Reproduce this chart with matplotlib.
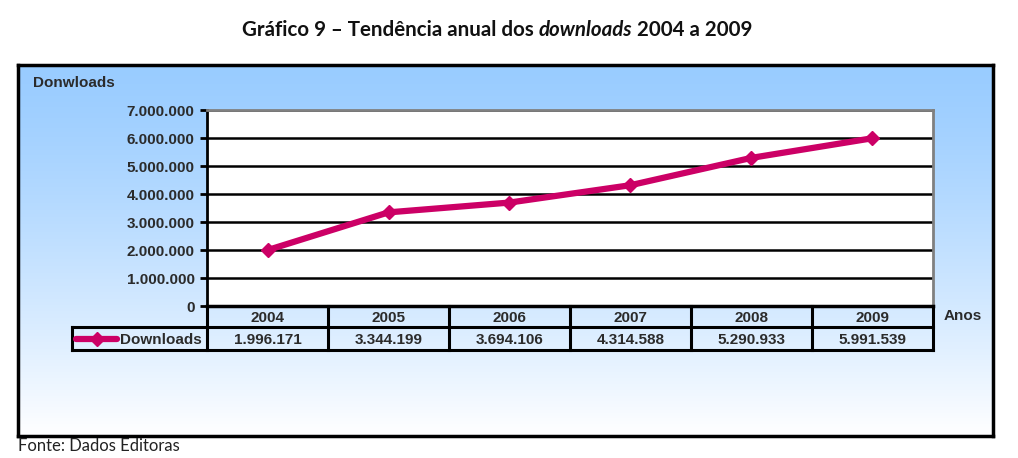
import numpy as np
import matplotlib.pyplot as plt
from matplotlib.lines import Line2D

years = ['2004', '2005', '2006', '2007', '2008', '2009']
downloads = [1996171, 3344199, 3694106, 4314588, 5290933, 5991539]
labels = ['1.996.171', '3.344.199', '3.694.106', '4.314.588', '5.290.933', '5.991.539']
yticks = [0, 1000000, 2000000, 3000000, 4000000, 5000000, 6000000, 7000000]

W, H = 1018, 458
pink = '#cc0066'
fs = 11
plt.rcParams['font.family'] = ['Liberation Sans', 'DejaVu Sans']

fig = plt.figure(figsize=(W / 100, H / 100), dpi=100)


def box(x0, y0, x1, y1):
    # pixel box (top-left origin) -> figure rect
    return [x0 / W, 1 - y1 / H, (x1 - x0) / W, (y1 - y0) / H]


def fx(x):
    return x / W


def fy(y):
    return 1 - y / H


# gradient panel
bg = fig.add_axes(box(18, 65, 993, 436))
grad = np.linspace(0, 1, 256) ** 1.3
top = np.array([0.6, 0.8, 1.0])
cols = top[None, :] * (1 - grad[:, None]) + np.ones(3)[None, :] * grad[:, None]
bg.imshow(cols[:, None, :], aspect='auto', extent=[0, 1, 0, 1])
bg.set_xticks([])
bg.set_yticks([])
for s in bg.spines.values():
    s.set_linewidth(2.5)
    s.set_color('black')

# title in three pieces, laid out one after the other
renderer = fig.canvas.get_renderer()
parts = [('Gráfico 9 – Tendência anual dos ', 'normal'),
         ('downloads', 'italic'),
         (' 2004 a 2009', 'normal')]
texts = []
for s, st in parts:
    texts.append(fig.text(0, fy(30), s, ha='left', va='center', fontsize=14.8,
                          fontweight='bold', style=st, family='Lato', color='#111111'))
widths = [t.get_window_extent(renderer).width for t in texts]
xpos = 497 - sum(widths) / 2
for t, w in zip(texts, widths):
    t.set_x(fx(xpos))
    xpos += w

# main plot
ax = fig.add_axes(box(207, 110, 933, 306))
ax.set_facecolor('white')
x = np.arange(len(years))
ax.set_xlim(-0.5, len(years) - 0.5)
ax.set_ylim(0, 7000000)
ax.set_yticks(yticks)
ax.set_yticklabels([f'{v:,}'.replace(',', '.') for v in yticks],
                   fontsize=fs, fontweight='bold', color='#2b2b2b')
ax.set_xticks([])
for v in yticks[1:]:
    ax.axhline(v, color='black', lw=1.8, zorder=1)
ax.plot(x, downloads, color=pink, lw=4.5, marker='D', markersize=7, zorder=3,
        solid_capstyle='round')
ax.spines['left'].set_linewidth(2)
ax.spines['bottom'].set_linewidth(2.5)
ax.spines['top'].set_color('#808080')
ax.spines['top'].set_linewidth(2)
ax.spines['right'].set_color('#808080')
ax.spines['right'].set_linewidth(2)
ax.tick_params(axis='y', length=5, width=2, pad=4)

fig.text(fx(33), fy(83), 'Donwloads', fontsize=fs, fontweight='bold',
         color='#2b2b2b', va='center')
fig.text(fx(963), fy(316), 'Anos', fontsize=fs, fontweight='bold',
         color='#2b2b2b', va='center', ha='center')

# data table
x0, x1 = 207, 933
cw = (x1 - x0) / len(years)
r0, r1, r2 = 306, 327, 350
lw = 2.2
fig.add_artist(Line2D([fx(x0), fx(x0)], [fy(r0), fy(r2)], color='black', lw=lw))
fig.add_artist(Line2D([fx(72), fx(x1)], [fy(r1), fy(r1)], color='black', lw=lw))
fig.add_artist(Line2D([fx(72), fx(x1)], [fy(r2), fy(r2)], color='black', lw=lw))
fig.add_artist(Line2D([fx(72), fx(72)], [fy(r1), fy(r2)], color='black', lw=lw))
for i, (yr, lab) in enumerate(zip(years, labels)):
    cx = x0 + cw * (i + 0.5)
    xe = x0 + cw * (i + 1)
    fig.add_artist(Line2D([fx(xe), fx(xe)], [fy(r0), fy(r2)], color='black', lw=lw))
    fig.text(fx(cx), fy((r0 + r1) / 2 + 1), yr, ha='center', va='center',
             fontsize=fs, fontweight='bold', color='#2b2b2b')
    fig.text(fx(cx), fy((r1 + r2) / 2 + 1), lab, ha='center', va='center',
             fontsize=fs, fontweight='bold', color='#2b2b2b')
fig.add_artist(Line2D([fx(76), fx(117)], [fy(339), fy(339)], color=pink, lw=4.5,
                      solid_capstyle='round'))
fig.add_artist(Line2D([fx(97)], [fy(339)], color=pink, marker='D', markersize=7))
fig.text(fx(120), fy(339.5), 'Downloads', ha='left', va='center', fontsize=fs,
         fontweight='bold', color='#2b2b2b')

fig.text(fx(18), fy(446), 'Fonte: Dados Editoras', ha='left', va='center',
         fontsize=12, family='Lato', color='#222222')

fig.savefig('out.png', dpi=100)
